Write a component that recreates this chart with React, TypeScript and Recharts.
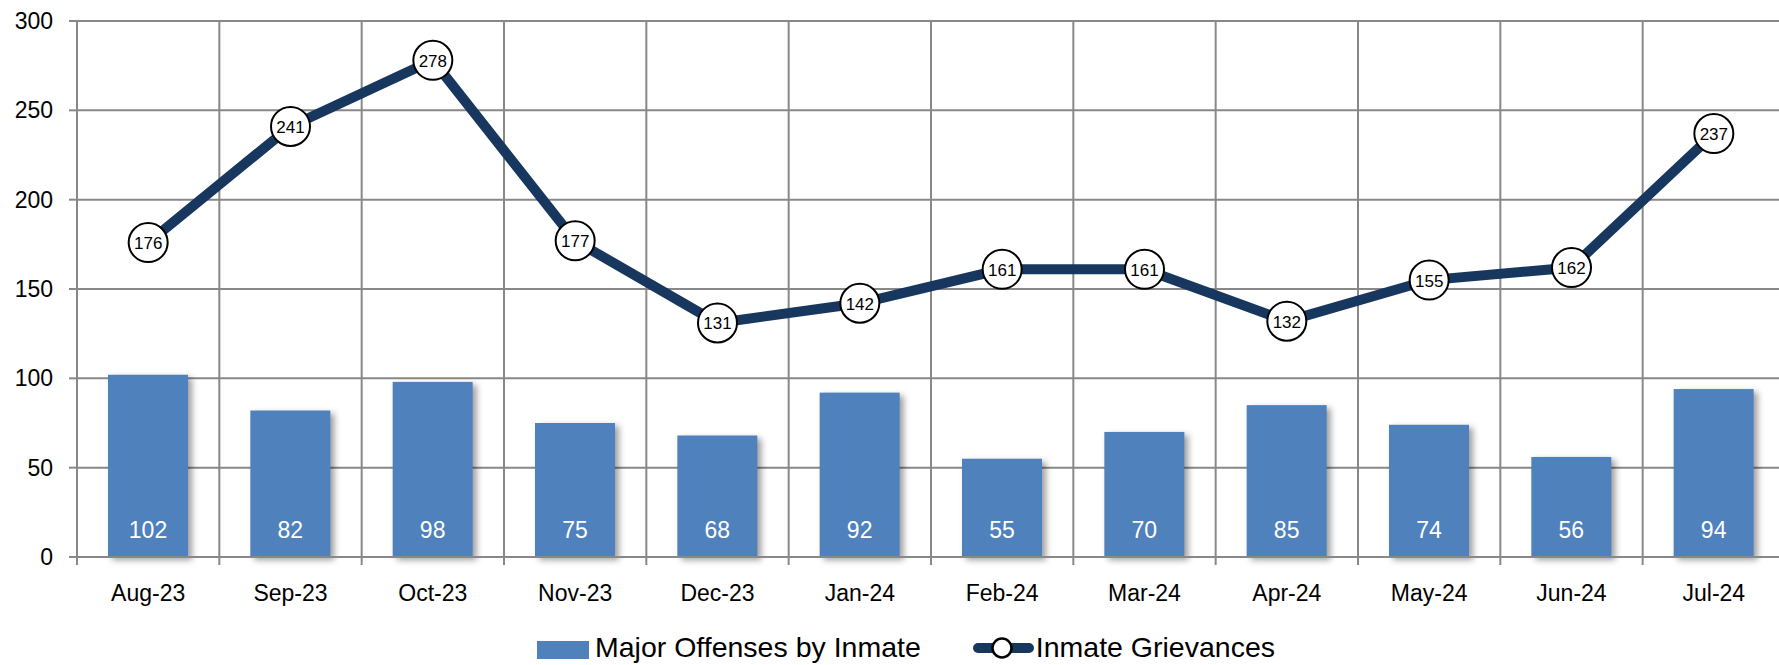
import React from 'react';
import { ComposedChart, Bar, Line, XAxis, YAxis, CartesianGrid, Legend, LabelList } from 'recharts';

const categories = ['Aug-23', 'Sep-23', 'Oct-23', 'Nov-23', 'Dec-23', 'Jan-24', 'Feb-24', 'Mar-24', 'Apr-24', 'May-24', 'Jun-24', 'Jul-24'];
const majorOffenses = [102, 82, 98, 75, 68, 92, 55, 70, 85, 74, 56, 94];
const grievances = [176, 241, 278, 177, 131, 142, 161, 161, 132, 155, 162, 237];
const yTicks = [0, 50, 100, 150, 200, 250, 300];
const seriesNames = { bars: 'Major Offenses by Inmate', line: 'Inmate Grievances' };

const data = categories.map((month, i) => ({ month, offenses: majorOffenses[i], grievances: grievances[i] }));

const BAR_COLOR = '#4F81BD';
const LINE_COLOR = '#17375E';
const GRID = '#888888';
const FONT = '"Liberation Sans", Arial, sans-serif';

const BarShape = (props: any) => {
  const { x, y, width, height } = props;
  return (
    <rect x={x} y={y} width={width} height={height} fill={BAR_COLOR}
      style={{ filter: 'drop-shadow(4px 3px 3px rgba(0,0,0,0.38))' }} />
  );
};

const BarLabel = (props: any) => {
  const { x, y, width, height, value } = props;
  return (
    <text x={x + width / 2} y={y + height - 27} textAnchor="middle" dominantBaseline="central"
      fill="#ffffff" fontSize={23} fontFamily={FONT}>{value}</text>
  );
};

const Dot = (props: any) => {
  const { cx, cy, value } = props;
  return (
    <g>
      <circle cx={cx} cy={cy} r={19.5} fill="#ffffff" stroke="#000000" strokeWidth={2} />
      <text x={cx} y={cy + 1} textAnchor="middle" dominantBaseline="central" fill="#000" fontSize={17} fontFamily={FONT}>{value}</text>
    </g>
  );
};

const XTick = (props: any) => {
  const { x, y, payload } = props;
  return (
    <text x={x} y={y + 36} textAnchor="middle" dominantBaseline="central" fill="#000" fontSize={23} fontFamily={FONT}>{payload.value}</text>
  );
};

const YTick = (props: any) => {
  const { x, y, payload } = props;
  return (
    <text x={x} y={y} textAnchor="end" dominantBaseline="central" fill="#000" fontSize={23} fontFamily={FONT}>{payload.value}</text>
  );
};

const VLine = (props: any) => {
  const { x1, y1, x2, y2 } = props;
  return <line x1={x1} y1={y1} x2={x2} y2={y2 + 8} stroke={GRID} strokeWidth={2} />;
};

const LegendContent = () => (
  <div style={{ display: 'flex', alignItems: 'center', height: 34, fontFamily: FONT, fontSize: 28.5, lineHeight: '34px', color: '#000', whiteSpace: 'nowrap' }}>
    <div style={{ width: 52, height: 18, background: BAR_COLOR, marginRight: 6, marginTop: 6 }} />
    <span>{seriesNames.bars}</span>
    <svg width={63} height={24} style={{ marginLeft: 51, marginRight: 1, marginTop: 2 }}>
      <line x1={6} y1={12} x2={57} y2={12} stroke={LINE_COLOR} strokeWidth={10} strokeLinecap="round" />
      <ellipse cx={30} cy={12} rx={9.5} ry={9.5} fill="#fff" stroke="#000" strokeWidth={2.5} />
    </svg>
    <span>{seriesNames.line}</span>
  </div>
);

export default function App() {
  const n = categories.length;
  return (
    <div style={{ position: 'absolute', left: 0, top: 0, width: 1779, height: 665, overflow: 'hidden', background: '#fff' }}>
      <ComposedChart width={1785} height={665} data={data} margin={{ top: 21, right: 0, bottom: 0, left: 0 }}>
        <CartesianGrid
          stroke={GRID}
          strokeWidth={2}
          horizontal={true}
          vertical={VLine}
          verticalCoordinatesGenerator={({ offset }: any) =>
            Array.from({ length: n + 1 }, (_, i) => offset.left + (i * offset.width) / n)
          }
        />
        <XAxis dataKey="month" height={74} tickSize={0} tickMargin={0} tickLine={false}
          axisLine={{ stroke: GRID, strokeWidth: 2 }} tick={XTick} interval={0} />
        <YAxis width={77} domain={[0, 300]} ticks={yTicks} tickSize={8} tickMargin={16}
          axisLine={{ stroke: GRID, strokeWidth: 2 }} tickLine={{ stroke: GRID, strokeWidth: 2 }} tick={YTick} />
        <Legend content={LegendContent} wrapperStyle={{ top: 630, left: 537, width: 'auto', height: 34 }} />
        <Bar dataKey="offenses" name={seriesNames.bars} barSize={80} shape={BarShape} isAnimationActive={false}>
          <LabelList dataKey="offenses" content={BarLabel} />
        </Bar>
        <Line dataKey="grievances" name={seriesNames.line} stroke={LINE_COLOR} strokeWidth={10}
          dot={Dot} activeDot={false} isAnimationActive={false} />
      </ComposedChart>
    </div>
  );
}
